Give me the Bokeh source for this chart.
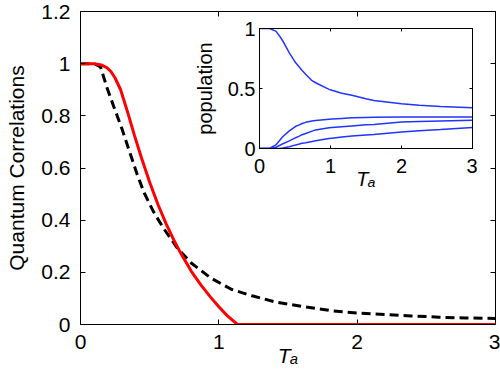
from bokeh.plotting import figure
from bokeh.models import Range1d, LinearAxis, FixedTicker
from bokeh.embed import file_html
from bokeh.resources import INLINE

# ---------------- data ----------------
# main panel: solid red curve
red_x = [0, 0.10, 0.15, 0.19, 0.22, 0.25, 0.29, 0.34, 0.39, 0.44, 0.50, 0.56, 0.62, 0.68, 0.73,
         0.80, 0.87, 0.94, 1.00, 1.06, 1.135, 1.5, 2.0, 2.5, 3.0]
red_y = [1.0, 1.0, 0.995, 0.985, 0.97, 0.945, 0.90, 0.815, 0.725, 0.64, 0.545, 0.46, 0.385, 0.318,
         0.268, 0.205, 0.152, 0.105, 0.068, 0.034, 0.0, 0.0, 0.0, 0.0, 0.0]
# main panel: dashed black curve
blk_x = [0, 0.10, 0.145, 0.19, 0.24, 0.30, 0.35, 0.41, 0.46, 0.53, 0.60, 0.70, 0.80, 0.94, 1.09,
         1.24, 1.42, 1.62, 1.81, 2.00, 2.20, 2.39, 2.59, 2.78, 3.0]
blk_y = [1.0, 1.0, 0.987, 0.91, 0.836, 0.75, 0.67, 0.575, 0.505, 0.43, 0.369, 0.293, 0.236, 0.179,
         0.135, 0.11, 0.085, 0.068, 0.053, 0.044, 0.038, 0.033, 0.028, 0.025, 0.023]

# inset: populations
pop_x = [0, 0.10, 0.14, 0.23, 0.28, 0.33, 0.42, 0.51, 0.56, 0.60, 0.65, 0.74, 0.79, 0.98, 1.02,
         1.16, 1.30, 1.50, 1.61, 2.00, 2.25, 2.55, 3.0]
pop1 = [1.0, 1.0, 1.0, 0.978, 0.94, 0.894, 0.797, 0.714, 0.68, 0.65, 0.618, 0.565, 0.548, 0.493,
        0.485, 0.46, 0.443, 0.415, 0.40, 0.373, 0.36, 0.351, 0.34]
pop2 = [0.0, 0.0, 0.0, 0.03, 0.064, 0.10, 0.147, 0.185, 0.197, 0.208, 0.218, 0.23, 0.234, 0.244,
        0.246, 0.251, 0.256, 0.259, 0.26, 0.262, 0.262, 0.262, 0.262]
pop3 = [0.0, 0.0, 0.0, 0.01, 0.025, 0.04, 0.064, 0.09, 0.103, 0.115, 0.125, 0.145, 0.155, 0.172,
        0.175, 0.182, 0.188, 0.197, 0.201, 0.22, 0.226, 0.23, 0.235]
pop4 = [0.0, 0.0, 0.0, 0.0, 0.0, 0.004, 0.014, 0.03, 0.037, 0.043, 0.048, 0.058, 0.064, 0.083,
        0.086, 0.096, 0.104, 0.113, 0.117, 0.138, 0.148, 0.158, 0.174]

main_xticks = [0, 1, 2, 3]
main_xlabels = ["0", "1", "2", "3"]
main_yticks = [0, 0.2, 0.4, 0.6, 0.8, 1.0, 1.2]
main_ylabels = ["0", "0.2", "0.4", "0.6", "0.8", "1", "1.2"]
ins_xticks = [0, 1, 2, 3]
ins_xlabels = ["0", "1", "2", "3"]
ins_yticks = [0, 0.5, 1.0]
ins_ylabels = ["0", "0.5", "1"]
x_title = "T\u2090"
main_y_title = "Quantum Correlations"
ins_y_title = "population"

FONT = "Liberation Sans"


def style_axes(fig, xticks, xlabels, yticks, ylabels, tick_in, fs, xstand, ystand):
    fig.xgrid.visible = False
    fig.ygrid.visible = False
    fig.outline_line_color = "black"
    fig.outline_line_width = 1
    fig.outline_line_alpha = 1
    xa = fig.below[0]
    ya = fig.left[0]
    xa.ticker = FixedTicker(ticks=xticks)
    xa.major_label_overrides = dict(zip(xticks, xlabels))
    xa.major_label_standoff = xstand
    ya.ticker = FixedTicker(ticks=yticks)
    ya.major_label_overrides = dict(zip(yticks, ylabels))
    ya.major_label_standoff = ystand
    for ax in (xa, ya):
        ax.major_tick_in = tick_in
        ax.major_tick_out = 0
        ax.minor_tick_line_color = None
        ax.axis_line_color = "black"
        ax.major_tick_line_color = "black"
        ax.major_label_text_font = FONT
        ax.major_label_text_font_size = fs
        ax.major_label_text_color = "black"
        ax.axis_label_text_font = FONT
        ax.axis_label_text_font_size = fs
        ax.axis_label_text_font_style = "normal"
        ax.axis_label_text_color = "black"
    return xa, ya


def add_box_axes(fig, xticks, yticks, tick_in):
    top = LinearAxis(ticker=FixedTicker(ticks=xticks))
    right = LinearAxis(ticker=FixedTicker(ticks=yticks))
    for ax in (top, right):
        ax.major_tick_in = tick_in
        ax.major_tick_out = 0
        ax.minor_tick_line_color = None
        ax.major_label_text_font_size = "0px"
        ax.major_label_text_color = None
        ax.major_label_standoff = 0
        ax.axis_line_color = "black"
        ax.major_tick_line_color = "black"
    fig.add_layout(top, "above")
    fig.add_layout(right, "right")


# ---------------- main figure ----------------
p = figure(width=500, height=375, x_range=Range1d(0, 3), y_range=Range1d(0, 1.2),
           output_backend="svg", toolbar_location=None,
           min_border_left=80, min_border_right=5, min_border_top=11, min_border_bottom=51)
pxa, pya = style_axes(p, main_xticks, main_xlabels, main_yticks, main_ylabels, 5, "21px", 10, 10)
add_box_axes(p, main_xticks, main_yticks, 5)
pya.axis_label = main_y_title
pya.axis_label_standoff = 10
pxa.axis_label = x_title
pxa.axis_label_text_font_style = "italic"
pxa.axis_label_standoff = -8

p.line(blk_x, blk_y, line_color="black", line_width=3, line_dash="9 5")
p.line(red_x, red_y, line_color="#ff0000", line_width=3)

# ---------------- inset figure (separate root, pulled up over the main one) ----------------
q = figure(width=288, height=185, x_range=Range1d(0, 3), y_range=Range1d(0, 1),
           output_backend="svg", toolbar_location=None,
           min_border_left=70, min_border_right=5, min_border_top=10, min_border_bottom=55,
           border_fill_color=None, background_fill_color="white",
           margin=(-357, 0, 0, 189))
qxa, qya = style_axes(q, ins_xticks, ins_xlabels, ins_yticks, ins_ylabels, 3, "20px", 10, 4)
add_box_axes(q, ins_xticks, ins_yticks, 3)
qya.axis_label = ins_y_title
qya.axis_label_standoff = 9
qxa.axis_label = x_title
qxa.axis_label_text_font_style = "italic"
qxa.axis_label_standoff = -8

for ys in (pop1, pop2, pop3, pop4):
    q.line(pop_x, ys, line_color="#1f35ff", line_width=1.5)

open("out.html", "w").write(file_html([p, q], INLINE))
